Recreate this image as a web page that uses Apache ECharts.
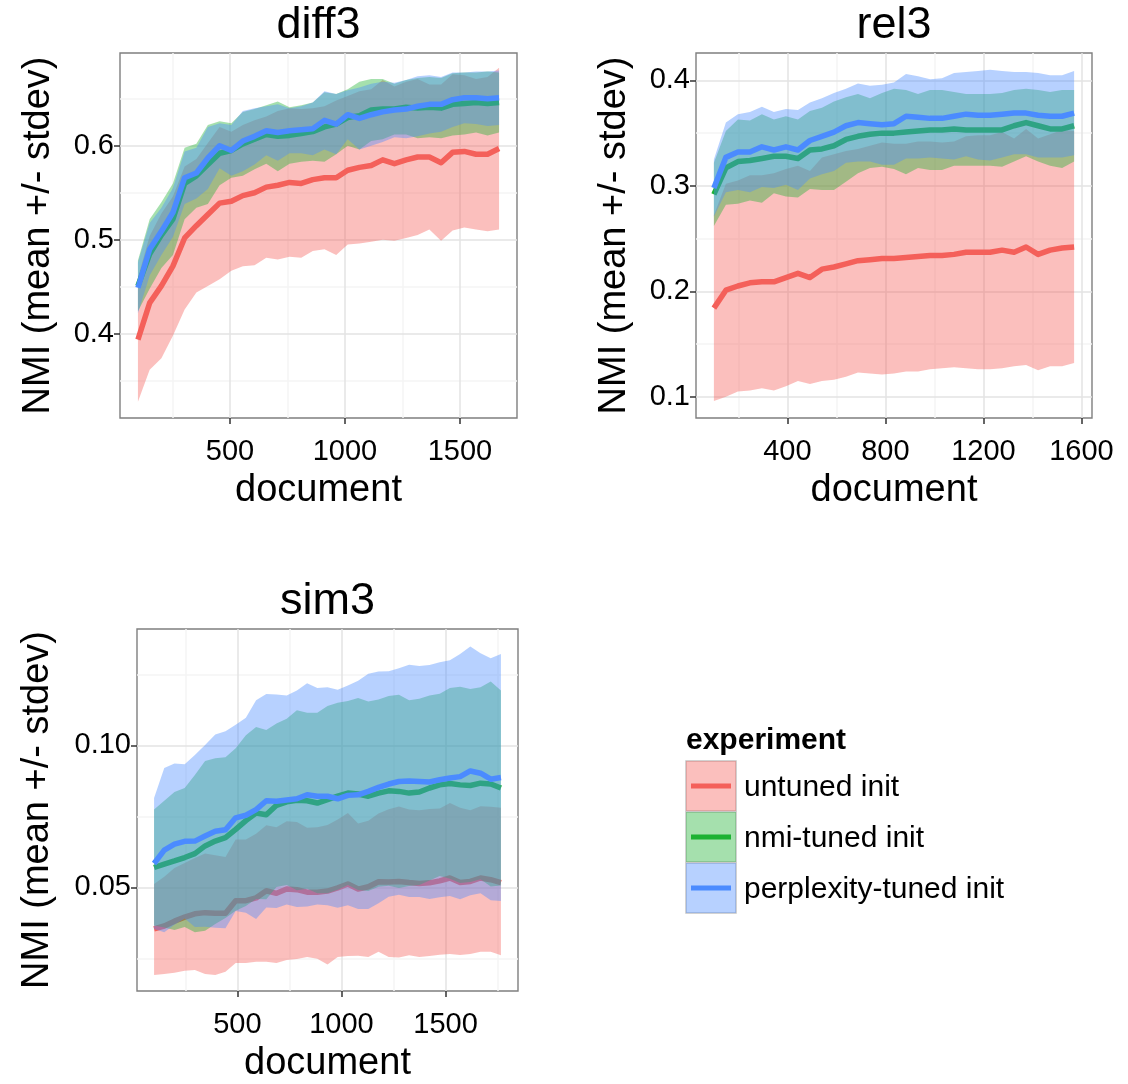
<!DOCTYPE html>
<html><head><meta charset="utf-8">
<script src="https://cdn.jsdelivr.net/npm/echarts@6/dist/echarts.min.js"></script>
<style>html,body{margin:0;padding:0;background:#fff}#c{width:1128px;height:1084px}</style>
</head><body><div id="c"></div>
<script>
const FONT = '"Liberation Sans", Arial, Helvetica, sans-serif';

// ---------- data: diff3 ----------
const diff3Docs = [100,151,202,252,303,354,404,455,506,556,607,658,708,759,810,860,911,962,1012,1063,1114,1164,1215,1266,1316,1367,1418,1468,1519,1570,1620,1670];
const diff3UntunedMean = [0.394,0.433,0.451,0.472,0.502,0.515,0.527,0.539,0.541,0.547,0.550,0.556,0.558,0.561,0.560,0.564,0.566,0.566,0.574,0.577,0.579,0.585,0.581,0.585,0.588,0.588,0.582,0.593,0.594,0.591,0.591,0.597];
const diff3UntunedLo = [0.328,0.362,0.374,0.398,0.426,0.444,0.451,0.458,0.467,0.472,0.473,0.481,0.479,0.482,0.481,0.488,0.490,0.484,0.495,0.496,0.498,0.500,0.499,0.502,0.505,0.511,0.499,0.510,0.513,0.511,0.509,0.511];
const diff3UntunedHi = [0.460,0.504,0.528,0.546,0.578,0.586,0.603,0.620,0.615,0.622,0.627,0.631,0.637,0.640,0.639,0.640,0.642,0.648,0.653,0.658,0.660,0.670,0.663,0.668,0.671,0.665,0.665,0.676,0.675,0.671,0.673,0.683];
const diff3NmiMean = [0.451,0.485,0.505,0.522,0.560,0.568,0.580,0.592,0.595,0.602,0.607,0.612,0.610,0.611,0.613,0.615,0.620,0.623,0.630,0.632,0.638,0.639,0.639,0.641,0.640,0.641,0.640,0.644,0.645,0.646,0.645,0.646];
const diff3NmiLo = [0.424,0.448,0.470,0.484,0.522,0.534,0.538,0.558,0.566,0.568,0.575,0.581,0.573,0.581,0.583,0.584,0.583,0.591,0.600,0.596,0.605,0.607,0.612,0.612,0.608,0.609,0.608,0.611,0.612,0.614,0.611,0.614];
const diff3NmiHi = [0.478,0.522,0.540,0.560,0.598,0.602,0.622,0.626,0.624,0.636,0.639,0.643,0.647,0.641,0.643,0.646,0.657,0.655,0.660,0.668,0.671,0.671,0.666,0.670,0.672,0.673,0.672,0.677,0.678,0.678,0.679,0.678];
const diff3PplMean = [0.449,0.490,0.509,0.529,0.566,0.571,0.587,0.600,0.595,0.605,0.610,0.616,0.614,0.616,0.617,0.618,0.627,0.623,0.633,0.629,0.633,0.636,0.638,0.639,0.642,0.644,0.644,0.649,0.651,0.651,0.650,0.651];
const diff3PplLo = [0.422,0.462,0.484,0.503,0.538,0.544,0.554,0.576,0.568,0.573,0.580,0.590,0.584,0.592,0.592,0.590,0.596,0.591,0.607,0.596,0.600,0.604,0.609,0.608,0.610,0.613,0.615,0.620,0.624,0.623,0.621,0.622];
const diff3PplHi = [0.476,0.518,0.534,0.555,0.594,0.598,0.620,0.624,0.622,0.637,0.640,0.642,0.644,0.640,0.642,0.646,0.658,0.655,0.659,0.662,0.666,0.668,0.667,0.670,0.674,0.675,0.673,0.678,0.678,0.679,0.679,0.680];

// ---------- data: rel3 ----------
const rel3Docs = [100,149,198,247,296,345,394,443,492,541,590,639,688,737,786,835,884,933,982,1031,1080,1129,1178,1227,1276,1325,1374,1423,1472,1521,1570];
const rel3UntunedMean = [0.184,0.201,0.205,0.208,0.209,0.209,0.213,0.217,0.213,0.221,0.223,0.226,0.229,0.230,0.231,0.231,0.232,0.233,0.234,0.234,0.235,0.237,0.237,0.237,0.239,0.237,0.242,0.235,0.239,0.241,0.242];
const rel3UntunedLo = [0.096,0.100,0.105,0.106,0.108,0.106,0.110,0.115,0.112,0.115,0.116,0.119,0.123,0.122,0.121,0.122,0.124,0.124,0.126,0.127,0.128,0.127,0.126,0.126,0.127,0.129,0.130,0.125,0.129,0.129,0.132];
const rel3UntunedHi = [0.272,0.302,0.305,0.310,0.310,0.312,0.316,0.319,0.314,0.327,0.330,0.333,0.335,0.338,0.341,0.340,0.340,0.342,0.342,0.341,0.342,0.347,0.348,0.348,0.351,0.345,0.354,0.345,0.349,0.353,0.352];
const rel3NmiMean = [0.292,0.317,0.323,0.324,0.326,0.328,0.328,0.326,0.334,0.335,0.338,0.344,0.347,0.349,0.350,0.350,0.351,0.352,0.353,0.353,0.354,0.353,0.353,0.353,0.353,0.357,0.360,0.357,0.354,0.354,0.357];
const rel3NmiLo = [0.262,0.282,0.283,0.286,0.284,0.293,0.290,0.289,0.297,0.296,0.296,0.304,0.312,0.317,0.318,0.316,0.311,0.317,0.315,0.315,0.319,0.319,0.319,0.319,0.318,0.323,0.328,0.323,0.319,0.317,0.323];
const rel3NmiHi = [0.322,0.352,0.363,0.362,0.368,0.363,0.366,0.363,0.371,0.374,0.380,0.384,0.387,0.383,0.388,0.392,0.391,0.387,0.391,0.391,0.389,0.387,0.387,0.387,0.388,0.391,0.392,0.391,0.389,0.391,0.391];
const rel3PplMean = [0.298,0.327,0.332,0.332,0.337,0.334,0.337,0.334,0.343,0.347,0.351,0.357,0.360,0.359,0.358,0.359,0.366,0.365,0.364,0.364,0.366,0.368,0.367,0.367,0.368,0.369,0.369,0.367,0.366,0.366,0.369];
const rel3PplLo = [0.271,0.294,0.296,0.294,0.299,0.298,0.301,0.296,0.307,0.311,0.314,0.322,0.323,0.323,0.320,0.320,0.326,0.326,0.327,0.326,0.325,0.328,0.325,0.324,0.327,0.330,0.330,0.327,0.327,0.327,0.329];
const rel3PplHi = [0.325,0.360,0.368,0.370,0.375,0.370,0.373,0.372,0.379,0.383,0.388,0.392,0.397,0.395,0.396,0.398,0.406,0.404,0.401,0.402,0.407,0.408,0.409,0.410,0.409,0.408,0.408,0.407,0.405,0.405,0.409];

// ---------- data: sim3 ----------
const sim3Docs = [100,149,198,247,296,345,394,443,492,541,590,639,688,737,786,835,884,933,982,1031,1080,1129,1178,1227,1276,1325,1374,1423,1472,1521,1570,1619,1668,1717,1766];
const sim3UntunedMean = [0.0354,0.0364,0.0381,0.0395,0.0407,0.0411,0.0409,0.0409,0.0453,0.0453,0.0463,0.0488,0.0479,0.0494,0.0492,0.0483,0.0483,0.0487,0.0498,0.0512,0.0494,0.0502,0.0520,0.0519,0.0521,0.0517,0.0514,0.0516,0.0523,0.0533,0.0517,0.0521,0.0533,0.0527,0.0517];
const sim3UntunedLo = [0.0191,0.0195,0.0199,0.0206,0.0209,0.0195,0.0191,0.0203,0.0234,0.0234,0.0238,0.0238,0.0234,0.0244,0.0248,0.0255,0.0249,0.0228,0.0255,0.0258,0.0259,0.0255,0.0273,0.0255,0.0253,0.0261,0.0255,0.0258,0.0263,0.0265,0.0262,0.0265,0.0273,0.0273,0.0261];
const sim3UntunedHi = [0.0512,0.0537,0.0568,0.0586,0.0603,0.0619,0.0613,0.0607,0.0669,0.0669,0.0689,0.0719,0.0712,0.0733,0.0730,0.0710,0.0712,0.0720,0.0739,0.0762,0.0725,0.0735,0.0760,0.0775,0.0785,0.0774,0.0772,0.0776,0.0778,0.0797,0.0780,0.0772,0.0786,0.0784,0.0780];
const sim3NmiMean = [0.0570,0.0582,0.0593,0.0605,0.0619,0.0646,0.0663,0.0675,0.0704,0.0735,0.0762,0.0756,0.0789,0.0801,0.0807,0.0805,0.0797,0.0809,0.0821,0.0832,0.0829,0.0821,0.0832,0.0840,0.0838,0.0832,0.0836,0.0850,0.0861,0.0866,0.0861,0.0859,0.0867,0.0864,0.0850];
const sim3NmiLo = [0.0366,0.0359,0.0350,0.0360,0.0342,0.0347,0.0371,0.0392,0.0418,0.0434,0.0459,0.0458,0.0501,0.0508,0.0490,0.0495,0.0479,0.0479,0.0492,0.0508,0.0491,0.0487,0.0502,0.0506,0.0498,0.0505,0.0508,0.0524,0.0540,0.0530,0.0515,0.0519,0.0529,0.0503,0.0507];
const sim3NmiHi = [0.0774,0.0805,0.0836,0.0850,0.0896,0.0945,0.0955,0.0958,0.0990,0.1036,0.1065,0.1054,0.1077,0.1094,0.1124,0.1115,0.1115,0.1139,0.1150,0.1156,0.1167,0.1155,0.1162,0.1174,0.1178,0.1159,0.1164,0.1176,0.1182,0.1202,0.1207,0.1199,0.1205,0.1225,0.1193];
const sim3PplMean = [0.0584,0.0631,0.0652,0.0662,0.0663,0.0681,0.0698,0.0703,0.0745,0.0754,0.0774,0.0805,0.0803,0.0808,0.0812,0.0826,0.0821,0.0821,0.0812,0.0824,0.0826,0.0838,0.0852,0.0864,0.0873,0.0875,0.0873,0.0871,0.0879,0.0885,0.0890,0.0910,0.0902,0.0881,0.0887];
const sim3PplLo = [0.0353,0.0342,0.0368,0.0390,0.0360,0.0361,0.0358,0.0356,0.0417,0.0411,0.0389,0.0429,0.0427,0.0440,0.0431,0.0433,0.0440,0.0437,0.0428,0.0437,0.0424,0.0424,0.0444,0.0467,0.0474,0.0466,0.0466,0.0459,0.0465,0.0470,0.0458,0.0472,0.0479,0.0455,0.0452];
const sim3PplHi = [0.0815,0.0920,0.0936,0.0934,0.0966,0.1001,0.1038,0.1050,0.1073,0.1097,0.1159,0.1181,0.1179,0.1176,0.1193,0.1219,0.1202,0.1205,0.1196,0.1211,0.1228,0.1252,0.1260,0.1261,0.1272,0.1284,0.1280,0.1283,0.1293,0.1300,0.1322,0.1348,0.1325,0.1307,0.1322];

// ---------- ticks ----------
const diff3XTicks = [500,1000,1500], diff3XMinor = [250,750,1250];
const diff3YTicks = [0.4,0.5,0.6], diff3YLabels = ['0.4','0.5','0.6'], diff3YMinor = [0.35,0.45,0.55,0.65];
const rel3XTicks = [400,800,1200,1600], rel3XMinor = [200,600,1000,1400];
const rel3YTicks = [0.1,0.2,0.3,0.4], rel3YLabels = ['0.1','0.2','0.3','0.4'], rel3YMinor = [0.15,0.25,0.35];
const sim3XTicks = [500,1000,1500], sim3XMinor = [250,750,1250,1750];
const sim3YTicks = [0.05,0.10], sim3YLabels = ['0.05','0.10'], sim3YMinor = [0.025,0.075,0.125];

const groupNames = ['untuned init','nmi-tuned init','perplexity-tuned init'];
const panelTitles = ['diff3','rel3','sim3'];

// ---------- styles / layout ----------
const lineColors = ['#F4605A','#1DB233','#4B8BFF'];
const fillColors = ['rgba(244,96,90,0.4)','rgba(29,178,51,0.4)','rgba(75,139,255,0.4)'];

const panels = [
  { title: panelTitles[0], docs: diff3Docs,
    groups: [[diff3UntunedMean,diff3UntunedLo,diff3UntunedHi],[diff3NmiMean,diff3NmiLo,diff3NmiHi],[diff3PplMean,diff3PplLo,diff3PplHi]],
    xr: [22,1748], yr: [0.3106,0.6986], xT: diff3XTicks, xM: diff3XMinor, yT: diff3YTicks, yL: diff3YLabels, yM: diff3YMinor,
    grid: {left:120, top:53, width:397, height:365}, yGap: 62 },
  { title: panelTitles[1], docs: rel3Docs,
    groups: [[rel3UntunedMean,rel3UntunedLo,rel3UntunedHi],[rel3NmiMean,rel3NmiLo,rel3NmiHi],[rel3PplMean,rel3PplLo,rel3PplHi]],
    xr: [27,1643], yr: [0.0798,0.426], xT: rel3XTicks, xM: rel3XMinor, yT: rel3YTicks, yL: rel3YLabels, yM: rel3YMinor,
    grid: {left:696, top:53, width:396, height:365}, yGap: 62 },
  { title: panelTitles[2], docs: sim3Docs,
    groups: [[sim3UntunedMean,sim3UntunedLo,sim3UntunedHi],[sim3NmiMean,sim3NmiLo,sim3NmiHi],[sim3PplMean,sim3PplLo,sim3PplHi]],
    xr: [18,1848], yr: [0.0135,0.141], xT: sim3XTicks, xM: sim3XMinor, yT: sim3YTicks, yL: sim3YLabels, yM: sim3YMinor,
    grid: {left:137, top:629, width:381, height:365}, yGap: 80 }
];

const grids = [], xAxes = [], yAxes = [], series = [], graphics = [];
const MAJOR = '#E3E3E3', MINOR = '#F4F4F4';

function ribbonRenderer(docs, lo, hi, fill) {
  return function (params, api) {
    if (params.dataIndex !== 0) return null;
    const pts = [];
    for (let k = 0; k < docs.length; k++) pts.push(api.coord([docs[k], hi[k]]));
    for (let k = docs.length - 1; k >= 0; k--) pts.push(api.coord([docs[k], lo[k]]));
    return {type:'polygon', shape:{points:pts}, style:{fill:fill, stroke:null}};
  };
}

panels.forEach((p, i) => {
  grids.push(Object.assign({show:true, borderColor:'#7F7F7F', borderWidth:1.4, backgroundColor:'#fff', containLabel:false}, p.grid));
  xAxes.push({
    type:'value', gridIndex:i, min:p.xr[0], max:p.xr[1],
    splitLine:{show:false}, axisLine:{show:false},
    axisTick:{show:true, customValues:p.xT, length:6, lineStyle:{color:'#333', width:1.5}},
    axisLabel:{customValues:p.xT, fontSize:29, color:'#000', fontFamily:FONT, margin:19, formatter: v => String(Math.round(v))},
    name:'document', nameLocation:'middle', nameGap:54,
    nameTextStyle:{fontSize:38, color:'#000', fontFamily:FONT}
  });
  yAxes.push({
    type:'value', gridIndex:i, min:p.yr[0], max:p.yr[1],
    splitLine:{show:false}, axisLine:{show:false},
    axisTick:{show:true, customValues:p.yT, length:6, lineStyle:{color:'#333', width:1.5}},
    axisLabel:{customValues:p.yT, fontSize:29, color:'#000', fontFamily:FONT, margin:6,
      formatter: v => { const k = p.yT.findIndex(t => Math.abs(t - v) < 1e-9); return k >= 0 ? p.yL[k] : ''; }},
    name:'NMI (mean +/- stdev)', nameLocation:'middle', nameGap:p.yGap,
    nameTextStyle:{fontSize:38, color:'#000', fontFamily:FONT}
  });
  // grid lines
  const gl = [];
  p.xM.forEach(v => gl.push({coords:[[v,p.yr[0]],[v,p.yr[1]]], lineStyle:{color:MINOR}}));
  p.yM.forEach(v => gl.push({coords:[[p.xr[0],v],[p.xr[1],v]], lineStyle:{color:MINOR}}));
  p.xT.forEach(v => gl.push({coords:[[v,p.yr[0]],[v,p.yr[1]]], lineStyle:{color:MAJOR}}));
  p.yT.forEach(v => gl.push({coords:[[p.xr[0],v],[p.xr[1],v]], lineStyle:{color:MAJOR}}));
  series.push({type:'lines', coordinateSystem:'cartesian2d', xAxisIndex:i, yAxisIndex:i, z:1, silent:true,
    lineStyle:{width:1.5, opacity:1, curveness:0}, data:gl});
  // ribbon then mean line, per group; each later layer drawn on top
  p.groups.forEach((g, gi) => {
    const [mean, lo, hi] = g;
    series.push({type:'custom', name:groupNames[gi], xAxisIndex:i, yAxisIndex:i, z:2 + gi * 2, silent:true,
      renderItem: ribbonRenderer(p.docs, lo, hi, fillColors[gi]),
      encode:{x:0, y:[1,2]},
      data:p.docs.map((d,k)=>[d, lo[k], hi[k]])});
    series.push({type:'line', name:groupNames[gi], xAxisIndex:i, yAxisIndex:i, z:3 + gi * 2, silent:true,
      symbol:'none', lineStyle:{color:lineColors[gi], width:5.5, cap:'butt', join:'round'},
      data:p.docs.map((d,k)=>[d, mean[k]])});
  });
  // panel title
  graphics.push({type:'text', x:p.grid.left + p.grid.width/2, y:p.grid.top - 27,
    style:{text:p.title, font:'45px ' + FONT, fill:'#000', align:'center', verticalAlign:'middle'}});
});

// legend
const LX = 686, LY0 = 761, KS = 51;
graphics.push({type:'text', x:LX, y:741, style:{text:'experiment', font:'bold 30px ' + FONT, fill:'#000', align:'left', verticalAlign:'middle'}});
groupNames.forEach((n, gi) => {
  const y = LY0 + gi * KS;
  graphics.push({type:'rect', shape:{x:LX, y:y, width:KS-1, height:KS-1}, style:{fill:'#fff', stroke:'#C4C4C4', lineWidth:1.5}});
  graphics.push({type:'rect', shape:{x:LX, y:y, width:KS-1, height:KS-1}, style:{fill:fillColors[gi]}});
  graphics.push({type:'line', shape:{x1:LX+5, y1:y+(KS-1)/2, x2:LX+KS-6, y2:y+(KS-1)/2}, style:{stroke:lineColors[gi], lineWidth:5}});
  graphics.push({type:'text', x:LX+KS+7, y:y+(KS-1)/2 + 2, style:{text:n, font:'30px ' + FONT, fill:'#000', align:'left', verticalAlign:'middle'}});
});

const chart = echarts.init(document.getElementById('c'), null, {renderer:'canvas'});
chart.setOption({
  animation:false, backgroundColor:'#fff',
  grid:grids, xAxis:xAxes, yAxis:yAxes, series:series, graphic:graphics
});
</script></body></html>
